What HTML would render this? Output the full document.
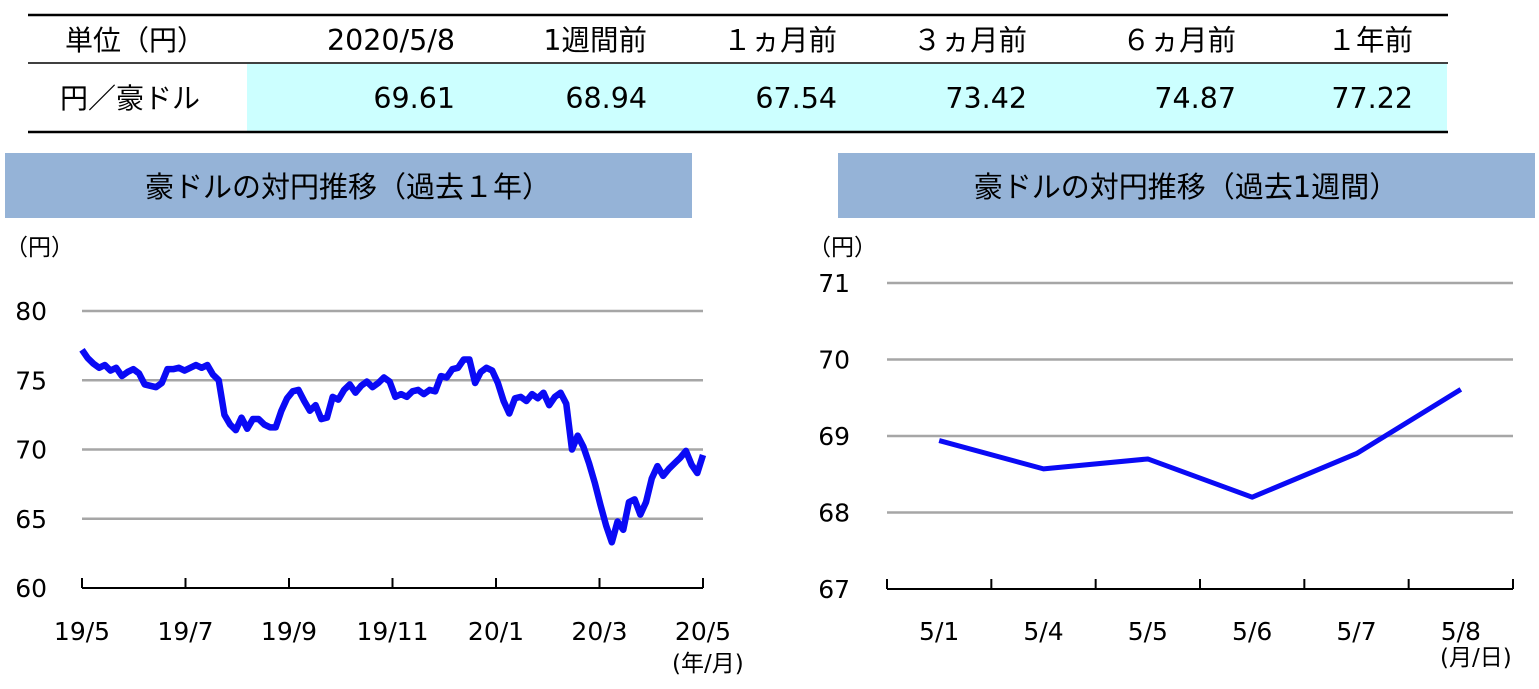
<!DOCTYPE html>
<html><head><meta charset="utf-8">
<style>
body{margin:0;width:1539px;height:685px;background:#fff;overflow:hidden;font-family:"DejaVu Sans","Noto Sans CJK JP",sans-serif;}
svg text{font-family:"DejaVu Sans","Noto Sans CJK JP",sans-serif;}
</style></head><body>
<svg width="1539" height="685">
<g>
<rect x="247" y="64" width="1200" height="67" fill="#ccffff"/>
<line x1="28" y1="15" x2="1448" y2="15" stroke="#000" stroke-width="2.5"/>
<line x1="28" y1="63" x2="1448" y2="63" stroke="#000" stroke-width="1.5"/>
<line x1="28" y1="132" x2="1448" y2="132" stroke="#000" stroke-width="2.5"/>
<g font-size="28.5" fill="#000">
<text x="65" y="50" font-size="28">単位（円）</text>
<text x="455" y="50" text-anchor="end">2020/5/8</text>
<text x="647" y="50" text-anchor="end">1週間前</text>
<text x="837" y="50" text-anchor="end">１ヵ月前</text>
<text x="1027" y="50" text-anchor="end">３ヵ月前</text>
<text x="1236" y="50" text-anchor="end">６ヵ月前</text>
<text x="1413" y="50" text-anchor="end">１年前</text>
<text x="60" y="108" font-size="28">円／豪ドル</text>
<text x="455" y="108" text-anchor="end">69.61</text>
<text x="647" y="108" text-anchor="end">68.94</text>
<text x="837" y="108" text-anchor="end">67.54</text>
<text x="1027" y="108" text-anchor="end">73.42</text>
<text x="1236" y="108" text-anchor="end">74.87</text>
<text x="1413" y="108" text-anchor="end">77.22</text>
</g></g>
<rect x="5" y="153" width="687" height="65" fill="#95b3d7"/>
<text x="348" y="197" font-size="29" text-anchor="middle">豪ドルの対円推移（過去１年）</text>
<rect x="838" y="153" width="697" height="65" fill="#95b3d7"/>
<text x="1186" y="197" font-size="29" text-anchor="middle">豪ドルの対円推移（過去1週間）</text>
<g id="left"></g>
<g id="right"></g>
</svg>
<script>
const yearTicks=[60,65,70,75,80];
const yearLabels=["19/5","19/7","19/9","19/11","20/1","20/3","20/5"];
const yearValues=[77.2,76.6,76.2,75.9,76.1,75.7,75.9,75.3,75.6,75.8,75.5,74.7,74.6,74.5,74.8,75.8,75.8,75.9,75.7,75.9,76.1,75.9,76.1,75.4,75.0,
72.5,71.8,71.4,72.3,71.5,72.2,72.2,71.8,71.6,71.6,72.8,73.7,74.2,74.3,73.5,72.8,73.2,72.2,72.3,
73.8,73.6,74.3,74.7,74.1,74.6,74.9,74.5,74.8,75.2,74.9,73.8,74.0,73.8,74.2,74.3,74.0,74.3,74.2,
75.3,75.2,75.8,75.9,76.5,76.5,74.8,75.6,75.9,75.7,74.8,73.5,72.6,73.7,73.8,73.5,74.0,73.7,74.1,73.2,73.8,74.1,73.3,
70.0,71.0,70.2,69.0,67.6,66.0,64.5,63.3,
64.8,64.2,66.2,66.4,65.3,66.2,67.9,68.8,68.1,68.6,69.0,69.4,69.9,68.9,68.3,69.6];
const weekCats=["5/1","5/4","5/5","5/6","5/7","5/8"];
const weekValues=[68.94,68.57,68.70,68.20,68.77,69.61];
const weekTicks=[67,68,69,70,71];
const NS="http://www.w3.org/2000/svg";
function mk(p,t,a,txt){const e=document.createElementNS(NS,t);for(const k in a)e.setAttribute(k,a[k]);if(txt!==undefined)e.textContent=txt;p.appendChild(e);return e;}
const L=document.getElementById('left');
const lx0=82,lx1=703,ly=v=>588-(v-60)*(588-311)/20;
const lxs=i=>lx0+(lx1-lx0)*i/(yearValues.length-1);
yearTicks.forEach(t=>{
 if(t>60){const g=mk(L,'line',{x1:lx0,x2:lx1,y1:ly(t),y2:ly(t),stroke:'#a6a6a6','stroke-width':2.5});
 
 }
 const tx=mk(L,'text',{x:47,y:ly(t)+9,'font-size':25,'text-anchor':'end'},t);
 
 
});
mk(L,'line',{x1:lx0,x2:lx1,y1:588,y2:588,stroke:'#000','stroke-width':2});
yearLabels.forEach((l,i)=>{const x=lx0+(lx1-lx0)*i/(yearLabels.length-1);
 mk(L,'line',{x1:x,x2:x,y1:578,y2:588,stroke:'#000','stroke-width':2});
 const tx=mk(L,'text',{x:x,y:640,'font-size':25,'text-anchor':'middle'},l);
 
 });
const ya=mk(L,'text',{x:5,y:255,'font-size':23},'（円）');


const xa=mk(L,'text',{x:672,y:671,'font-size':23},'(年/月)');


const lp=mk(L,'polyline',{points:yearValues.map((v,i)=>lxs(i)+','+ly(v)).join(' '),fill:'none',stroke:'#0a0af5','stroke-width':6.5,'stroke-linejoin':'round'});


const R=document.getElementById('right');
const rx0=887,rx1=1513,ry=v=>589-(v-67)*(589-283)/4;
const bw=(rx1-rx0)/weekCats.length;
weekTicks.forEach(t=>{
 if(t>67){const g=mk(R,'line',{x1:rx0,x2:rx1,y1:ry(t),y2:ry(t),stroke:'#a6a6a6','stroke-width':2.5});
 
 }
 const tx=mk(R,'text',{x:850,y:ry(t)+9,'font-size':25,'text-anchor':'end'},t);
 
 
});
mk(R,'line',{x1:rx0,x2:rx1,y1:589,y2:589,stroke:'#000','stroke-width':2});
for(let i=0;i<=weekCats.length;i++){const x=rx0+bw*i;mk(R,'line',{x1:x,x2:x,y1:579,y2:589,stroke:'#000','stroke-width':2});}
weekCats.forEach((c,i)=>{const tx=mk(R,'text',{x:rx0+bw*(i+0.5),y:640,'font-size':25,'text-anchor':'middle'},c);
 
 });
const ya2=mk(R,'text',{x:808,y:255,'font-size':23},'（円）');


const xa2=mk(R,'text',{x:1440,y:665,'font-size':23},'(月/日)');


const rp=mk(R,'polyline',{points:weekValues.map((v,i)=>(rx0+bw*(i+0.5))+','+ry(v)).join(' '),fill:'none',stroke:'#0a0af5','stroke-width':5,'stroke-linejoin':'round'});


</script>
</body></html>
